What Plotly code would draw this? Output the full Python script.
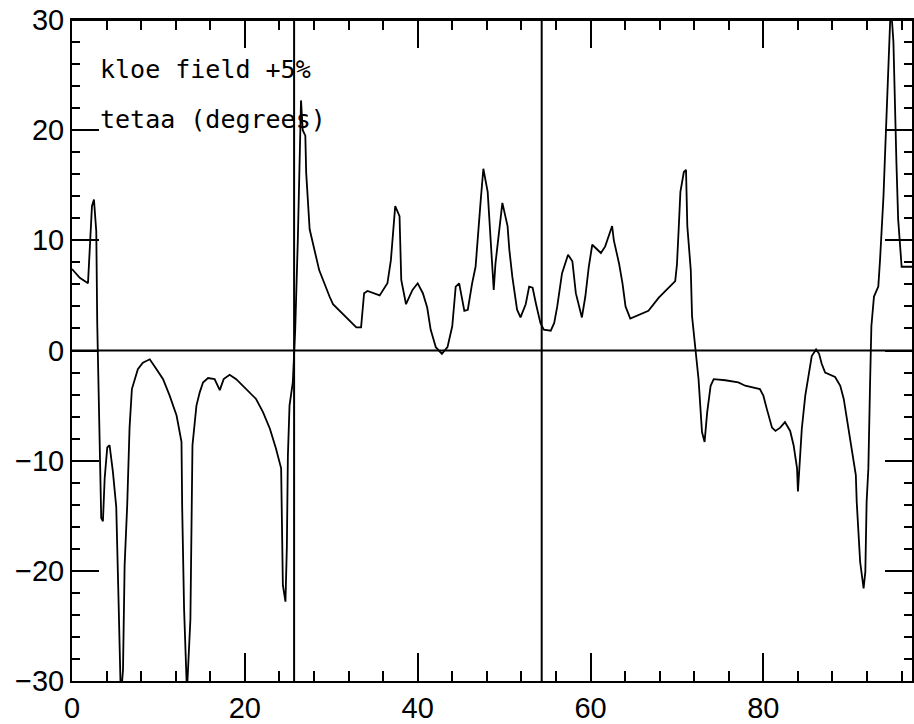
import plotly.graph_objects as go

# curve: tetaa (degrees) vs position
x_vals = [0.0, 0.9, 1.85, 2.04, 2.31, 2.54, 2.81, 2.92, 3.2, 3.38, 3.58, 3.78, 4.08, 4.35, 4.73,
          5.12, 5.39, 5.65, 5.9, 6.09, 6.39, 6.66, 6.93, 7.24, 7.62, 8.2, 9.0, 9.78, 10.54, 11.3,
          12.1, 12.67, 12.75, 12.97, 13.3, 13.7, 13.82, 13.94, 14.4, 14.78, 15.16, 15.74, 16.5, 17.1,
          17.55, 18.24, 19.0, 20.2, 21.3, 22.1, 22.9, 23.6, 24.2, 24.4, 24.7, 24.86, 24.98, 25.17,
          25.55, 25.83, 26.0, 26.13, 26.5, 26.7, 27.0, 27.1, 27.5, 28.6, 29.8, 30.2, 32.9, 33.45,
          33.8, 34.2, 35.6, 36.5, 36.9, 37.4, 37.9, 38.1, 38.65, 39.4, 40.0, 40.6, 41.1, 41.5, 42.1,
          42.8, 43.45, 44.0, 44.4, 44.8, 45.4, 45.8, 46.3, 46.7, 47.3, 47.6, 48.1, 48.35, 48.8, 49.0,
          49.4, 49.8, 50.4, 50.6, 50.95, 51.5, 51.9, 52.5, 52.9, 53.3, 53.7, 54.2, 54.6, 55.4, 55.8,
          56.15, 56.7, 57.4, 57.9, 58.3, 59.0, 59.4, 59.8, 60.2, 61.2, 61.7, 62.5, 62.7, 63.3, 63.7,
          64.05, 64.6, 66.7, 67.9, 69.8, 70.0, 70.2, 70.4, 70.8, 71.05, 71.2, 71.6, 71.75, 72.1, 72.5,
          72.9, 73.2, 73.5, 73.9, 74.25, 75.6, 77.1, 77.9, 79.6, 80.0, 80.4, 81.0, 81.4, 81.95, 82.5,
          83.1, 83.5, 83.9, 84.0, 84.45, 84.85, 85.2, 85.6, 86.1, 86.45, 86.75, 87.15, 88.3, 88.9,
          89.3, 89.6, 90.0, 90.4, 90.7, 90.8, 91.0, 91.2, 91.6, 91.8, 91.95, 92.15, 92.35, 92.5, 92.8,
          93.3, 93.5, 93.7, 93.9, 94.1, 94.3, 94.5, 94.75, 95.05, 95.25, 95.4, 95.6, 95.8, 96.0, 97.2]
y_vals = [7.4, 6.6, 6.1, 8.7, 13.1, 13.7, 10.8, 2.5, -8.9, -15.2, -15.5, -11.6, -8.8, -8.6, -11.0,
          -14.2, -22.8, -31.5, -29.0, -19.5, -14.0, -7.0, -3.5, -2.6, -1.7, -1.1, -0.8, -1.7, -2.6, -4.1,
          -5.9, -8.3, -14.3, -23.5, -31.0, -24.4, -12.3, -8.6, -5.0, -3.8, -2.9, -2.5, -2.6, -3.6,
          -2.6, -2.2, -2.6, -3.5, -4.4, -5.6, -7.1, -8.9, -10.7, -21.3, -22.8, -17.9, -9.6, -5.0,
          -2.9, 1.9, 6.1, 10.0, 22.7, 20.0, 19.5, 16.1, 11.0, 7.3, 4.9, 4.2, 2.1, 2.1,
          5.2, 5.4, 5.0, 6.1, 8.2, 13.1, 12.2, 6.4, 4.2, 5.5, 6.1, 5.2, 3.9, 1.9, 0.3,
          -0.3, 0.3, 2.2, 5.8, 6.1, 3.6, 3.7, 6.1, 7.6, 13.7, 16.5, 14.4, 11.0, 5.5, 7.9,
          10.7, 13.4, 11.3, 9.2, 6.7, 3.7, 3.0, 4.2, 5.8, 5.7, 4.2, 2.5, 1.9, 1.8, 2.5,
          4.0, 7.0, 8.7, 8.1, 5.2, 3.0, 4.9, 7.6, 9.6, 8.85, 9.45, 11.3, 10.0, 7.9, 6.1,
          4.0, 2.9, 3.6, 4.8, 6.3, 7.8, 11.0, 14.4, 16.2, 16.4, 11.3, 7.3, 3.1, 0.1, -2.6,
          -7.4, -8.3, -5.6, -3.2, -2.6, -2.7, -2.9, -3.2, -3.5, -4.1, -5.3, -7.0, -7.3, -7.0, -6.5,
          -7.3, -8.6, -10.7, -12.8, -7.1, -4.1, -2.3, -0.5, 0.1, -0.3, -1.2, -2.0, -2.4, -3.2,
          -4.4, -5.9, -7.7, -9.5, -11.3, -13.7, -16.4, -19.2, -21.6, -20.1, -13.7, -10.7, -2.9, 2.2, 4.9,
          5.8, 8.2, 11.0, 14.0, 18.2, 22.7, 27.5, 31.5, 28.0, 20.0, 17.0, 11.9, 10.0, 7.6, 7.6]

vlines = [25.7, 54.35]
hlines = [0]
x_range = [0, 97.2]
y_range = [-30, 30]
labels = ["kloe field +5%", "tetaa (degrees)"]

fig = go.Figure()
fig.add_trace(go.Scatter(x=x_vals, y=y_vals, mode="lines",
                         line=dict(color="black", width=1.8), showlegend=False, hoverinfo="skip"))

for v in vlines:
    fig.add_vline(x=v, line=dict(color="black", width=2))
for h in hlines:
    fig.add_hline(y=h, line=dict(color="black", width=2))
# top frame line
fig.add_shape(type="line", xref="paper", yref="paper", x0=0, x1=1, y0=1, y1=1,
              line=dict(color="black", width=2))

tickfont = dict(family="Liberation Sans", size=29, color="black")

fig.update_layout(
    width=914, height=724,
    margin=dict(l=72, r=0, t=20, b=40),
    paper_bgcolor="white", plot_bgcolor="white",
    xaxis=dict(range=x_range, dtick=20, tick0=0, ticks="inside", ticklen=28, tickwidth=2,
               tickcolor="black", showline=True, linewidth=2, linecolor="black", mirror="ticks",
               showgrid=False, zeroline=False, tickfont=tickfont,
               minor=dict(dtick=4, tick0=0, ticks="inside", ticklen=10, tickwidth=2,
                          tickcolor="black", showgrid=False)),
    yaxis=dict(range=y_range, dtick=10, tick0=0, ticks="inside", ticklen=27, tickwidth=2,
               tickcolor="black", showline=True, linewidth=2, linecolor="black", mirror="ticks",
               showgrid=False, zeroline=False, tickfont=tickfont,
               minor=dict(dtick=2, tick0=0, ticks="inside", ticklen=8, tickwidth=2,
                          tickcolor="black", showgrid=False)),
)

ann_font = dict(family="DejaVu Sans Mono", size=25, color="black")
fig.add_annotation(x=3.0, y=25.5, xref="x", yref="y", text=labels[0], showarrow=False,
                   xanchor="left", yanchor="middle", font=ann_font)
fig.add_annotation(x=3.0, y=21.0, xref="x", yref="y", text=labels[1], showarrow=False,
                   xanchor="left", yanchor="middle", font=ann_font)

fig.write_html("out.html", config={"displayModeBar": False},
               post_script="document.body.style.margin='0';")
